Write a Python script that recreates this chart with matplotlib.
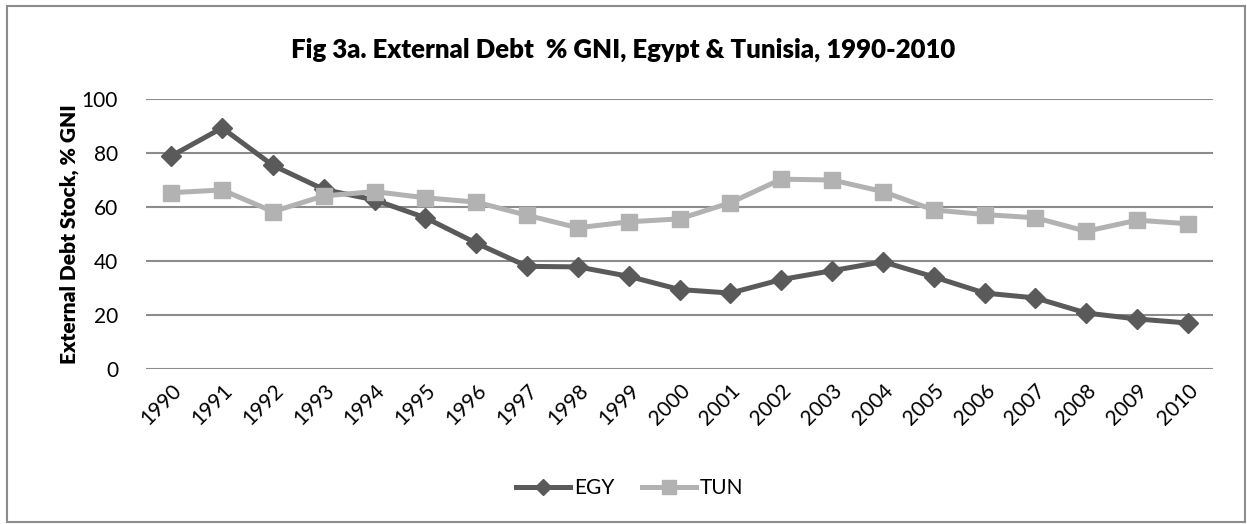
import matplotlib as mpl
mpl.use('Agg')
import matplotlib.pyplot as plt
import matplotlib.patches as mpatches

# data
years = [str(y) for y in range(1990, 2011)]
egy = [78.9, 89.3, 75.4, 66.5, 62.6, 56.0, 46.6, 38.0, 37.8, 34.3, 29.4,
       28.1, 33.1, 36.4, 39.7, 34.1, 28.1, 26.3, 20.7, 18.5, 17.0]
tun = [65.3, 66.3, 58.3, 64.1, 65.7, 63.4, 61.8, 56.9, 52.3, 54.5, 55.6,
       61.6, 70.3, 70.0, 65.7, 58.9, 57.2, 56.0, 51.0, 55.1, 53.8]

plt.rcParams['font.family'] = ['Lato', 'DejaVu Sans']

fig = plt.figure(figsize=(12.47, 5.24), dpi=100)
ax = fig.add_axes([0.117, 0.296, 0.856, 0.515])

x = list(range(len(years)))
ax.plot(x, egy, color='#5a5a5a', lw=3.6, marker='D', ms=10,
        label='EGY', zorder=3)
ax.plot(x, tun, color='#b2b2b2', lw=3.6, marker='s', ms=12,
        label='TUN', zorder=3)

ax.set_xlim(-0.5, len(years) - 0.5)
ax.set_ylim(0, 100)
ax.set_yticks(range(0, 101, 20))
ax.yaxis.grid(True, color='#8c8c8c', lw=1.5)
ax.set_axisbelow(True)
for s in ax.spines.values():
    s.set_visible(False)
ax.tick_params(axis='both', length=0, labelsize=15, labelcolor='black')
ax.tick_params(axis='y', pad=20)
ax.set_xticks(x)
ax.set_xticklabels(years, rotation=45, ha='right', rotation_mode='anchor')
ax.tick_params(axis='x', pad=8)

ax.set_ylabel('External Debt Stock, % GNI', fontsize=15, fontweight='heavy',
              labelpad=2)
fig.text(0.5, 0.905, 'Fig 3a. External Debt  % GNI, Egypt & Tunisia, 1990-2010',
         ha='center', va='center', fontsize=18.5, fontweight='heavy')

fig.legend(handles=ax.get_lines(), loc='center', bbox_to_anchor=(0.505, 0.068),
           ncol=2, frameon=False, fontsize=15, handlelength=2.6,
           columnspacing=1.3, handletextpad=0.2, markerscale=0.8)

# outer chart border
fig.patches.append(mpatches.Rectangle((0.006, 0.003), 0.992, 0.986,
                                      transform=fig.transFigure, fill=False,
                                      edgecolor='#8c8c8c', lw=1.5))

plt.savefig('out.png', dpi=100)
